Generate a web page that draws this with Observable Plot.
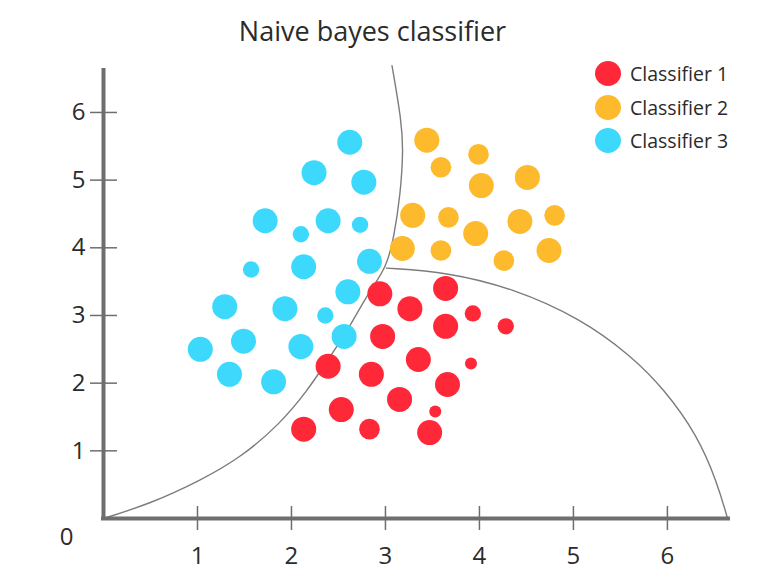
<!DOCTYPE html>
<html>
<head>
<meta charset="utf-8">
<script src="https://cdn.jsdelivr.net/npm/d3@7"></script>
<script src="https://cdn.jsdelivr.net/npm/@observablehq/plot@0.6"></script>
<style>
  html, body { margin: 0; padding: 0; background: #fff; }
  #wrap { position: relative; width: 773px; height: 578px; font-family: "Open Sans", sans-serif; color: #2b2b2b; }
  #title { position: absolute; left: 0; top: 0; width: 745px; height: 60px; line-height: 62px; text-align: center; font-size: 27px; }
  #chart { position: absolute; left: 0; top: 60px; }
  #legend { position: absolute; left: 595px; top: 57px; font-size: 19.5px; }
  .row { display: flex; align-items: center; height: 33.5px; }
  .sw { width: 26px; height: 25px; border-radius: 50%; margin-right: 9px; }
</style>
</head>
<body>
<div id="wrap">
  <div id="title">Naive bayes classifier</div>
  <div id="chart"></div>
  <div id="legend"></div>
</div>
<script>
// ---- data ----
const classNames = ["Classifier 1", "Classifier 2", "Classifier 3"];
const classColors = ["#fe2838", "#fdba2c", "#3cd9fd"];

// Classifier 1 (red)
const c1X = [2.94, 3.26, 3.64, 3.93, 4.28, 2.97, 3.64, 3.35, 3.91, 2.39, 2.85, 3.66, 3.15, 2.53, 3.53, 2.13, 2.83, 3.47];
const c1Y = [3.32, 3.10, 3.40, 3.03, 2.84, 2.69, 2.84, 2.35, 2.29, 2.25, 2.13, 1.98, 1.76, 1.61, 1.58, 1.32, 1.32, 1.27];
const c1W = [4, 4, 4, 2, 2, 4, 4, 4, 1, 4, 4, 4, 4, 4, 1, 4, 3, 4];

// Classifier 2 (orange)
const c2X = [3.44, 3.99, 3.59, 4.02, 4.51, 3.29, 3.67, 4.43, 4.80, 3.96, 3.18, 3.59, 4.26, 4.74];
const c2Y = [5.59, 5.38, 5.19, 4.92, 5.04, 4.48, 4.45, 4.39, 4.48, 4.21, 3.99, 3.96, 3.81, 3.96];
const c2W = [4, 3, 3, 4, 4, 4, 3, 4, 3, 4, 4, 3, 3, 4];

// Classifier 3 (cyan)
const c3X = [2.62, 2.24, 2.77, 1.72, 2.39, 2.73, 2.10, 2.83, 2.13, 1.57, 2.60, 1.29, 1.93, 2.36, 1.03, 1.49, 2.10, 2.56, 1.34, 1.81];
const c3Y = [5.56, 5.11, 4.97, 4.40, 4.40, 4.34, 4.20, 3.80, 3.72, 3.68, 3.35, 3.13, 3.10, 3.00, 2.50, 2.62, 2.54, 2.69, 2.13, 2.02];
const c3W = [4, 4, 4, 4, 4, 2, 2, 4, 4, 2, 4, 4, 4, 2, 4, 4, 4, 4, 4, 4];

// decision boundaries
const b1X = [0, 0.50, 1.03, 1.46, 1.88, 2.17, 2.38, 2.60, 2.81, 3.01, 3.09, 3.16, 3.19, 3.17, 3.07];
const b1Y = [0, 0.22, 0.56, 0.90, 1.40, 1.89, 2.33, 2.78, 3.32, 3.70, 4.15, 4.80, 5.44, 5.88, 6.69];
const b2X = [3.01, 3.66, 4.36, 5.07, 5.61, 5.96, 6.32, 6.53, 6.64];
const b2Y = [3.70, 3.64, 3.40, 2.96, 2.41, 1.92, 1.23, 0.53, 0];

const xTicks = [1, 2, 3, 4, 5, 6];
const yTicks = [1, 2, 3, 4, 5, 6];

// ---- build tables ----
const points = [];
[[c1X, c1Y, c1W], [c2X, c2Y, c2W], [c3X, c3Y, c3W]].forEach(([X, Y, W], k) => {
  X.forEach((x, i) => points.push({x, y: Y[i], w: W[i], cls: classNames[k]}));
});
const b1 = b1X.map((x, i) => ({x, y: b1Y[i]}));
const b2 = b2X.map((x, i) => ({x, y: b2Y[i]}));

const axisColor = "#6e6e6e";
const lineColor = "#7c7c7c";
const txt = "#2b2b2b";

const chart = Plot.plot({
  width: 773,
  height: 518,
  marginLeft: 103,
  marginRight: 45,
  marginTop: 10,
  marginBottom: 60,
  style: {fontFamily: "Open Sans, sans-serif", background: "white", overflow: "visible"},
  x: {domain: [0, 6.65], axis: null},
  y: {domain: [0, 6.62], axis: null},
  r: {type: "linear", domain: [1, 4], range: [6, 12.5]},
  color: {domain: classNames, range: classColors},
  marks: [
    Plot.line(b1, {x: "x", y: "y", curve: "basis", stroke: lineColor, strokeWidth: 1.4}),
    Plot.line(b2, {x: "x", y: "y", curve: "basis", stroke: lineColor, strokeWidth: 1.4}),
    Plot.dot(points, {x: "x", y: "y", r: "w", fill: "cls", stroke: null}),
    Plot.ruleX(xTicks, {x: d => d, y1: 0, y2: 0, insetTop: -12, insetBottom: -12, stroke: axisColor, strokeWidth: 1.5}),
    Plot.ruleY(yTicks, {y: d => d, x1: 0, x2: 0, insetLeft: -13, insetRight: -14, stroke: axisColor, strokeWidth: 1.5}),
    Plot.ruleX([0], {stroke: axisColor, strokeWidth: 4, strokeLinecap: "square"}),
    Plot.ruleY([0], {stroke: axisColor, strokeWidth: 4, strokeLinecap: "square"}),
    Plot.text(xTicks, {x: d => d, y: 0, dy: 38, text: d => String(d), fontSize: 24, fill: txt}),
    Plot.text(yTicks, {x: 0, y: d => d, dx: -18, text: d => String(d), textAnchor: "end", fontSize: 24, fill: txt}),
    Plot.text(["0"], {x: 0, y: 0, dx: -37, dy: 19, text: d => d, fontSize: 24, fill: txt})
  ]
});
document.getElementById("chart").appendChild(chart);

// legend
const legend = document.getElementById("legend");
classNames.forEach((name, i) => {
  const row = document.createElement("div");
  row.className = "row";
  const sw = document.createElement("div");
  sw.className = "sw";
  sw.style.background = classColors[i];
  const label = document.createElement("span");
  label.textContent = name;
  row.appendChild(sw);
  row.appendChild(label);
  legend.appendChild(row);
});
</script>
</body>
</html>
